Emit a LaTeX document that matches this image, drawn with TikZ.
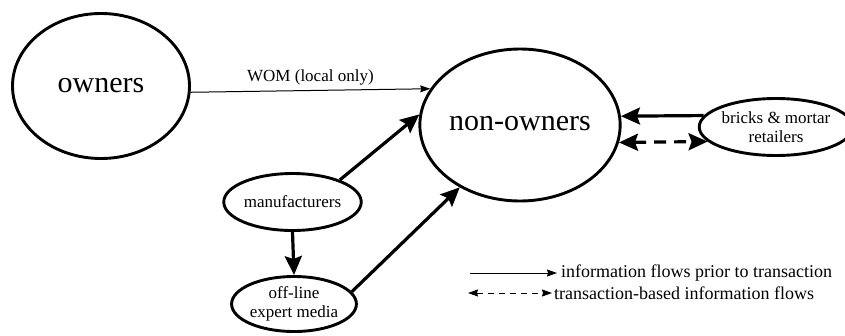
\documentclass[tikz,border=0pt]{standalone}
\usepackage{fontspec}
\setmainfont{Liberation Serif}
\usetikzlibrary{arrows.meta,shapes.geometric}
\tikzset{
  ell/.style={draw, ellipse, line width=2.9pt, inner sep=0pt, align=center},
  bigtext/.style={font=\fontsize{30}{34}\selectfont},
  smalltext/.style={font=\fontsize{17}{19}\selectfont},
  legtext/.style={font=\fontsize{18}{20}\selectfont, anchor=west, inner sep=0pt},
  bold arrow/.style={line width=3.2pt, -{Stealth[length=19pt,width=17pt,inset=3pt]}},
  bold darrow/.style={line width=3.2pt, dash pattern=on 12pt off 8pt,
     {Stealth[length=19pt,width=17pt,inset=3pt]}-{Stealth[length=19pt,width=17pt,inset=3pt]}},
  thin arrow/.style={line width=1pt, -{Stealth[length=10pt,width=7pt,inset=1pt]}},
  thin darrow/.style={line width=1pt, dash pattern=on 6pt off 5pt,
     {Stealth[length=10pt,width=7pt,inset=1pt]}-{Stealth[length=10pt,width=7pt,inset=1pt]}}
}
\begin{document}
\begin{tikzpicture}[x=1pt,y=-1pt]
\useasboundingbox (0,0) rectangle (845,335);
\node[ell, bigtext, minimum width=177pt, minimum height=145pt] (owners) at (101,86) {owners};
\node[ell, bigtext, minimum width=181pt, minimum height=152pt] (non) at (520,125) {\raisebox{4pt}{non-owners}};
\node[ell, smalltext, minimum width=132pt, minimum height=57pt] (bricks) at (776,127) {bricks \& mortar\\retailers};
\node[ell, smalltext, minimum width=116pt, minimum height=57pt] (manu) at (292.5,202) {manufacturers};
\node[ell, smalltext, minimum width=115pt, minimum height=55pt] (media) at (294,304) {off-line\\expert media};

\draw[thin arrow] (owners.-4.5) -- node[smalltext, above=2pt] (wom) {WOM (local only)} (non.158.9);
\draw[bold arrow] (manu.25.6) -- (non.174);
\draw[bold arrow] (media.12.8) -- (non.226.4);
\draw[bold arrow] (manu.south) -- (media.north);
\draw[bold arrow] (bricks.171.6) -- (non.5);
\draw[bold darrow] (non.-10.5) -- (bricks.192.8);

\coordinate (l1a) at (470,273);
\coordinate (l1b) at (557,273);
\coordinate (l2a) at (468,293);
\coordinate (l2b) at (552,293);
\draw[thin arrow] (l1a) -- (l1b);
\draw[thin darrow] (l2a) -- (l2b);
\node[legtext] (leg1) at (561,273) {information flows prior to transaction};
\node[legtext] (leg2) at (554,293) {transaction-based information flows};
\end{tikzpicture}
\end{document}
